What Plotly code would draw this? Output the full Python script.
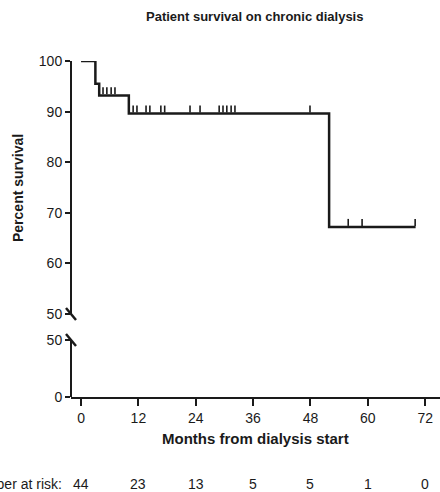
import plotly.graph_objects as go

# step curve (months, percent survival)
step_t = [0, 3.0, 3.8, 10.0, 51.9, 70.0]
step_s = [100, 95.5, 93.2, 89.6, 67.2, 67.2]

# censored observations
cens_t = [4.6, 5.4, 6.3, 7.1, 10.9, 11.7, 13.6, 14.4, 16.7, 17.5, 22.8, 24.9,
          28.9, 29.7, 30.5, 31.4, 32.2, 47.9, 55.9, 58.8, 69.9]
cens_s = [93.2] * 4 + [89.6] * 14 + [67.2] * 3

risk_t = [0, 12, 24, 36, 48, 60, 72]
risk_n = [44, 23, 13, 5, 5, 1, 0]

W, H = 440, 492
def py(px):
    return 1 - px / H

fig = go.Figure()
fig.add_trace(go.Scatter(x=step_t, y=step_s, mode="lines", line=dict(shape="hv", color="#1a1a1a", width=2.5),
                         xaxis="x", yaxis="y2", showlegend=False, cliponaxis=False))
fig.add_trace(go.Scatter(x=cens_t, y=[s + 0.9 for s in cens_s], mode="markers",
                         marker=dict(symbol="line-ns", size=5, line=dict(width=1.6, color="#1a1a1a")),
                         xaxis="x", yaxis="y2", showlegend=False, cliponaxis=False))
fig.add_trace(go.Scatter(x=[0], y=[-10], mode="markers", marker=dict(opacity=0),
                         xaxis="x", yaxis="y", showlegend=False))

font = dict(family="Liberation Sans, Arial", size=14, color="#1a1a1a")
ax_common = dict(showgrid=False, zeroline=False, showline=True, linecolor="#1a1a1a", linewidth=2,
                 ticks="outside", tickwidth=2, tickcolor="#1a1a1a", tickfont=font)

fig.update_layout(
    width=W, height=H, margin=dict(l=0, r=0, t=0, b=0, autoexpand=False),
    plot_bgcolor="white", paper_bgcolor="white", font=font,
    xaxis=dict(**ax_common, range=[-2.1, 75.1], domain=[71 / W, 1], anchor="y",
               tickvals=risk_t, ticklen=7),
    yaxis=dict(**ax_common, ticklen=5, range=[0, 50], domain=[py(397), py(340)], tickvals=[0, 50],
               anchor="free", position=71 / W),
    yaxis2=dict(**ax_common, ticklen=5, range=[50, 100], domain=[py(314), py(61)],
                tickvals=[50, 60, 70, 80, 90, 100], anchor="free", position=71 / W),
)

# axis break slashes
for yp in [314, 340]:
    fig.add_shape(type="line", xref="paper", yref="paper",
                  x0=66 / W, x1=76 / W, y0=py(yp - 6), y1=py(yp + 6),
                  line=dict(color="#1a1a1a", width=2.5))

c = dict(showarrow=False, xanchor="center", yanchor="middle")
fig.add_annotation(text="<b>Patient survival on chronic dialysis</b>", xref="paper", yref="paper",
                   x=254 / W, y=py(17), font=dict(family="Liberation Sans, Arial", size=13), **c)
fig.add_annotation(text="<b>Percent survival</b>", xref="paper", yref="paper", textangle=-90,
                   x=18 / W, y=py(188), font=dict(family="Liberation Sans, Arial", size=14), **c)
fig.add_annotation(text="<b>Months from dialysis start</b>", xref="paper", yref="paper",
                   x=255 / W, y=py(438), font=dict(family="Liberation Sans, Arial", size=15), **c)
fig.add_annotation(text="Number at risk:", xref="paper", yref="paper", xanchor="right", yanchor="middle",
                   x=64 / W, y=py(484), showarrow=False, font=font)
for t, n in zip(risk_t, risk_n):
    fig.add_annotation(text=str(n), xref="x", yref="paper", x=t, y=py(484), font=font, **c)

fig.write_html("out.html", config={"displayModeBar": False},
               post_script="document.body.style.margin='0';")
